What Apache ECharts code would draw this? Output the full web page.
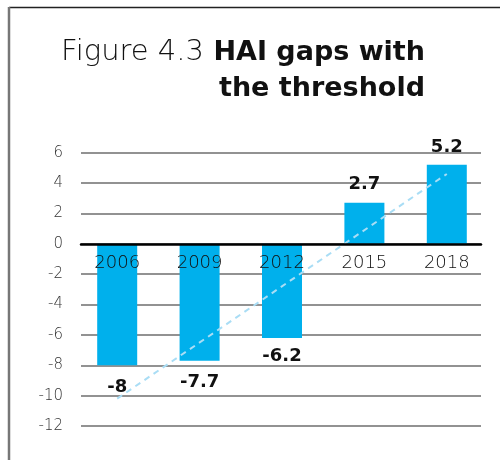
<!DOCTYPE html>
<html>
<head>
<meta charset="utf-8">
<script src="https://cdn.jsdelivr.net/npm/echarts@6/dist/echarts.min.js"></script>
<style>html,body{margin:0;padding:0;background:#fff}#c{width:500px;height:460px}</style>
</head>
<body>
<div id="c"></div>
<script>
const categories = ['2006', '2009', '2012', '2015', '2018'];
const gaps = [-8, -7.7, -6.2, 2.7, 5.2];
const trend = [-10.2, null, null, null, 4.6];
const yTicks = [-12, -10, -8, -6, -4, -2, 0, 2, 4, 6];

const FONT = '"DejaVu Sans", sans-serif';
const chart = echarts.init(document.getElementById('c'), null, {renderer: 'canvas'});

const barData = gaps.map(v => ({
  value: v,
  label: {
    position: v >= 0 ? 'top' : 'bottom',
    distance: v >= 0 ? 9 : (v < -7 ? 13 : 9)
  }
}));

const yMin = yTicks[0], yMax = yTicks[yTicks.length - 1];
const gridTop = 152.7, gridBottom = 34;
const plotH = 460 - gridTop - gridBottom;
const zeroOffset = -plotH * (0 - yMin) / (yMax - yMin);

chart.setOption({
  animation: false,
  backgroundColor: '#fff',
  title: [
    {text: '{l|Figure 4.3} {b|HAI gaps with}', right: 70, top: 29,
     textStyle: {
       fontFamily: FONT, fontSize: 27, color: '#111', lineHeight: 37,
       rich: {
         l: {fontFamily: FONT, fontWeight: 200, fontSize: 29, color: '#111', lineHeight: 37},
         b: {fontFamily: FONT, fontWeight: 'bold', fontSize: 27, color: '#111', lineHeight: 37}
       }
     }},
    {text: 'the threshold', right: 70, top: 65,
     textStyle: {fontFamily: FONT, fontWeight: 'bold', fontSize: 27, color: '#111', lineHeight: 37}}
  ],
  graphic: [
    {type: 'line', shape: {x1: 9, y1: 7.5, x2: 500, y2: 7.5}, style: {stroke: '#222', lineWidth: 1.5}, silent: true},
    {type: 'line', shape: {x1: 9, y1: 7, x2: 9, y2: 460}, style: {stroke: '#777', lineWidth: 2.5}, silent: true}
  ],
  grid: [
    {left: 76, right: 12, top: gridTop, bottom: gridBottom},
    {left: 81, right: 19, top: gridTop, bottom: gridBottom}
  ],
  xAxis: [
    {type: 'category', gridIndex: 0, data: categories, z: 10, position: 'bottom', offset: zeroOffset,
     axisLine: {show: false, onZero: false},
     axisTick: {show: false},
     axisLabel: {margin: 11, fontFamily: FONT, fontWeight: 200, fontSize: 18, color: '#111'}},
    {type: 'value', gridIndex: 1, min: 0, max: 1, z: 9,
     axisLine: {show: true, onZero: true, lineStyle: {color: '#000', width: 2.5}},
     axisTick: {show: false}, axisLabel: {show: false}, splitLine: {show: false}}
  ],
  yAxis: [
    {type: 'value', gridIndex: 0, min: yMin, max: yMax, interval: 2,
     axisLine: {show: false}, axisTick: {show: false}, axisLabel: {show: false},
     splitLine: {show: false}},
    {type: 'value', gridIndex: 1, min: yMin, max: yMax, interval: 2,
     axisLine: {show: false}, axisTick: {show: false},
     axisLabel: {margin: 18, fontFamily: FONT, fontWeight: 200, fontSize: 15, color: '#333'},
     splitLine: {show: true, lineStyle: {color: '#6e6e6e', width: 1.5}}}
  ],
  series: [
    {type: 'bar', xAxisIndex: 0, yAxisIndex: 0, data: barData, barWidth: 40,
     itemStyle: {color: '#00b0ec'},
     label: {show: true, fontFamily: FONT, fontWeight: 'bold', fontSize: 18, color: '#111'},
     silent: true, z: 2},
    {type: 'line', xAxisIndex: 0, yAxisIndex: 0, data: trend, connectNulls: true,
     symbol: 'none', silent: true, z: 5,
     lineStyle: {color: '#a9ddf5', width: 2, type: [6, 5]}}
  ]
});
</script>
</body>
</html>
